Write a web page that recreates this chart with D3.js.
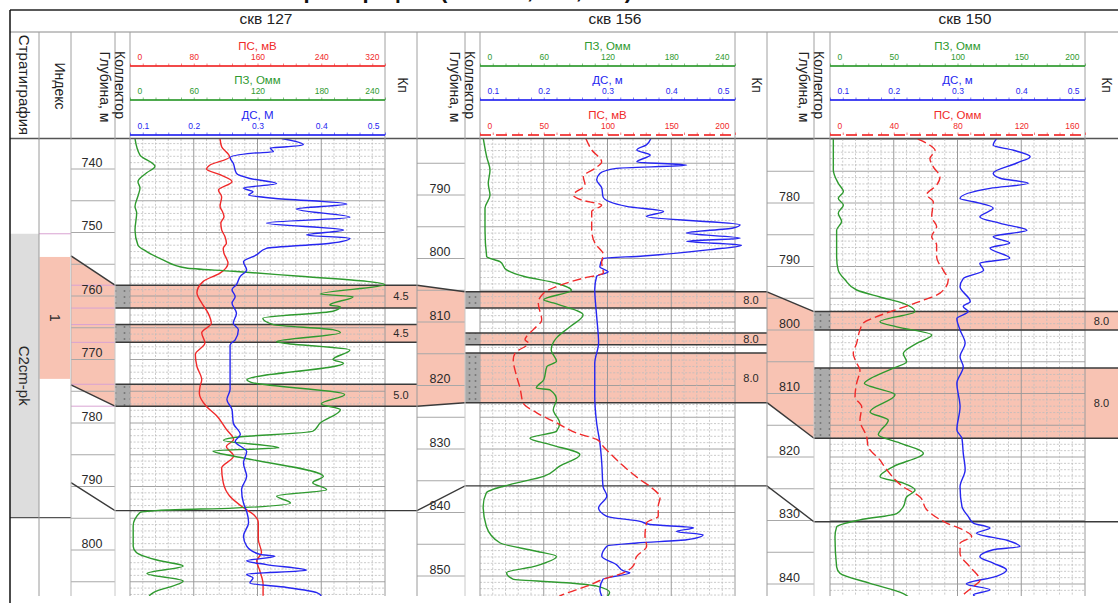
<!DOCTYPE html>
<html>
<head>
<meta charset="utf-8">
<script src="https://cdn.jsdelivr.net/npm/d3@7"></script>
<style>
  body { margin: 0; background: #fff; }
  svg { display: block; font-family: "Liberation Sans", Arial, sans-serif; }
</style>
</head>
<body>
<svg id="chart" width="1118" height="603"></svg>
<script>
// ---------------- data ----------------
const wellNames = ["скв 127", "скв 156", "скв 150"];

// depth tick labels, m
const depthLabels127 = [740, 750, 760, 770, 780, 790, 800];
const depthLabels156 = [790, 800, 810, 820, 830, 840, 850];
const depthLabels150 = [780, 790, 800, 810, 820, 830, 840];

// reservoir sublayers: [top, bottom, Кп]
const layers127 = [[758.3, 761.9, 4.5], [764.5, 767.3, 4.5], [773.9, 777.35, 5.0]];
const layers156 = [[805.25, 807.8, 8.0], [811.75, 813.6, 8.0], [814.9, 822.7, 8.0]];
const layers150 = [[797.1, 800.0, 8.0], [806.0, 817.05, 8.0]];

// stratigraphy and index column of well 127
const stratUnits = [{ name: "C2cm-pk", top: 750.2, bottom: 794.9 }];
const indexUnits = [{ name: "1", top: 753.85, bottom: 773.05 }];
const indexZoneEdge = [753.7, 774.0];

// lower correlation horizon depth in each well; start depth on the left of 127
const horizonDepths = [793.8, 835.8, 830.2];
const horizonStart127 = 789.4;

// curve scale tick labels
const ticksPS127 = [0, 80, 160, 240, 320];
const ticksPZ240 = [0, 60, 120, 180, 240];
const ticksDS = [0.1, 0.2, 0.3, 0.4, 0.5];
const ticksPS156 = [0, 50, 100, 150, 200];
const ticksPZ150 = [0, 50, 100, 150, 200];
const ticksPS150 = [0, 40, 80, 120, 160];

// ---- well 127 logs: [depth, value] ----
const pz127 = [[735.2,4.7],[737.8,9.4],[739.6,23.5],[740.6,15.7],[742,7.5],[743,9.4],[744.1,7.8],[745.9,4.7],[746.9,6.3],[749.6,4.7],[752,7.5],[753,15.7],[754.3,31],[755.6,53],[756.1,97],[756.9,160],[757.7,223],[758.2,240],[759.7,179],[760.1,210],[761.4,188],[761.7,198],[762.4,191],[763.5,125],[764.5,135],[765.3,191],[765.8,198],[767.2,138],[767.4,144],[768.5,207],[770,191],[770.6,201],[773.2,110],[773.6,114],[775.5,202],[777,180],[777.9,198],[780,179],[781.3,172],[782.3,97],[782.7,88],[783.9,140],[784.4,78],[785.2,97],[785.8,116],[788.4,182],[789.4,172],[790.5,185],[791.5,138],[792.6,151],[793.4,97],[793.7,35],[794.1,9.4],[796.2,3],[799.4,3],[800.4,6],[801.7,28],[802.5,50],[803.7,16],[804.9,50],[806.7,22],[807.2,18]];
const ps127 = [[735.2,113],[736.5,115],[738.1,125],[739.4,100],[740,96],[740.9,113],[742,128],[743.3,111],[744.4,115],[745.9,113],[746.7,116],[747.5,118],[748.5,114],[749.6,115],[750.6,119],[751.7,121],[752.5,117],[753.3,118],[754.1,121],[754.8,123],[756.4,113],[757.7,92],[759.5,84],[761.1,90],[762.7,98],[764.3,102],[765.8,90],[767.4,94],[769.2,82],[771.1,84],[773.2,90],[774.2,88],[775.3,87],[777.4,96],[778.9,109],[781,121],[782.6,130],[783.7,121],[785.2,130],[787.1,115],[789.4,117],[791.5,125],[793.3,142],[794.4,155],[795.7,161],[798.3,161],[800.4,165],[801.7,159],[803.3,163],[805.4,167],[807.2,167]];
const ds127 = [[735.2,0.338],[735.7,0.361],[736.2,0.372],[736.5,0.346],[736.7,0.320],[737.3,0.325],[737.5,0.293],[738.2,0.257],[739.1,0.262],[740.7,0.267],[741.5,0.288],[742.3,0.330],[743,0.278],[743.6,0.293],[744.1,0.286],[744.6,0.325],[745.5,0.440],[746.3,0.361],[747.6,0.445],[748.5,0.314],[749.6,0.435],[750.4,0.377],[750.9,0.445],[751.7,0.414],[752.5,0.314],[753.5,0.299],[754.6,0.278],[755.9,0.283],[756.9,0.273],[758.2,0.267],[759,0.260],[760.1,0.265],[761.1,0.260],[762.7,0.267],[764.3,0.262],[765.3,0.270],[766.9,0.265],[767.7,0.257],[770.6,0.257],[773.7,0.257],[774.7,0.257],[776.3,0.252],[777.9,0.260],[780,0.262],[781.8,0.273],[782.9,0.265],[784.5,0.283],[786.3,0.278],[788.4,0.283],[790.5,0.275],[792.6,0.278],[793.9,0.283],[795.7,0.286],[797.8,0.278],[799.4,0.283],[800.7,0.304],[801,0.327],[801.7,0.283],[802.3,0.314],[803.2,0.377],[803.8,0.283],[804.4,0.293],[805.2,0.288],[805.9,0.346],[806.7,0.393],[807.2,0.40]];

// ---- well 156 logs ----
const pz156 = [[781.1,3.1],[784,6.3],[786.1,9.4],[788.2,7.8],[790,9.4],[792.1,4.7],[795.5,4.7],[799.7,6.3],[800.5,18.8],[801.8,25],[802.8,41],[803.9,72],[805,86],[806.5,60],[807,69],[808.9,97],[810.7,85],[812.5,72],[814.4,67],[816.2,72],[817,63],[819.1,60],[820.4,53],[820.7,66],[822.2,72],[823.8,69],[825.9,75],[827.2,72],[828.3,47],[829.3,66],[830.9,94],[832.7,75],[834.3,60],[835.6,28],[836.9,6],[839,3],[842.2,6],[844.8,19],[846.1,53],[846.9,72],[848.4,53],[849.5,25],[850.5,31],[851.1,85],[851.6,110],[852.6,122],[853.2,120]];
const ds156 = [[781.1,0.368],[782.1,0.361],[782.9,0.346],[783.7,0.367],[784.8,0.346],[785.3,0.424],[785.8,0.314],[786.6,0.288],[787.6,0.283],[788.9,0.291],[790.3,0.293],[791.8,0.330],[792.6,0.388],[793.4,0.361],[794.7,0.508],[795.2,0.497],[796,0.424],[796.8,0.508],[797.3,0.424],[797.9,0.510],[798.6,0.461],[799.6,0.356],[800,0.293],[801.3,0.288],[802.1,0.301],[802.8,0.283],[804.9,0.280],[809.1,0.283],[813.3,0.286],[816.5,0.280],[821.7,0.280],[825.9,0.283],[829,0.288],[832.2,0.291],[835.9,0.293],[837.4,0.299],[839.3,0.286],[840.6,0.299],[841.4,0.351],[841.9,0.367],[842.4,0.435],[843,0.408],[843.5,0.450],[844.3,0.424],[844.8,0.346],[845.3,0.299],[846.9,0.291],[848.2,0.314],[849.2,0.325],[849.5,0.335],[850.5,0.293],[852.1,0.288],[853.2,0.291]];
const ps156 = [[781.1,83],[782.9,87.6],[784.8,95.4],[785.8,90.2],[787.1,81],[788.4,82.4],[790,73.2],[790.8,79.8],[791.6,95.4],[792.6,87.6],[795.5,87.6],[797.6,90.2],[799.4,96.7],[800.5,95.4],[802.3,96.7],[803.1,81],[804.2,62.7],[805.5,49.7],[807,45.7],[809.7,48.4],[811.2,41.8],[812.8,35.3],[813.3,37.9],[814.9,27.5],[815.9,26.1],[818.6,28.8],[820.4,31.4],[822.8,34],[824.3,44.5],[825.9,60.2],[827.5,75.8],[828.5,91.5],[829.6,96.7],[832.2,109.8],[834.8,125.5],[835.9,133.3],[837.7,141.2],[839,139.8],[840.6,139.8],[841.6,130.7],[843.7,129.4],[845.3,130.7],[846.9,122.9],[848.4,120.2],[849.5,112.4],[850.5,96.7],[851.6,83.7],[852.9,65.3],[853.2,62]];

// ---- well 150 logs ----
const pz150 = [[769.9,2.6],[774.8,2.6],[776.9,6.5],[778.2,10.5],[779.3,6.5],[780.3,10.5],[781.6,6.5],[782.9,9.1],[784.3,5.2],[788.5,5.2],[790.6,6.5],[792.1,11.8],[793.7,20.9],[794.8,39.2],[795.8,57.5],[797.1,66.7],[798.7,39.2],[799.5,52.3],[800.8,79.8],[802.1,68],[803.7,57.5],[805,60.1],[806,49.7],[807.4,34],[808.4,27],[810.2,51],[812.9,31.4],[814.2,45.7],[816.5,37.9],[817.8,54.9],[819.4,73.2],[821.5,49.7],[823.1,39.2],[824.1,57.5],[825.2,66.7],[826.3,60.1],[827.8,57.5],[828.9,52.3],[829.9,23.5],[831,5.2],[832.6,3.9],[837.3,5.2],[838.3,7.8],[839.9,31.4],[841.5,57.5],[842.1,62]];
const ds150 = [[769.9,0.361],[770.9,0.356],[771.7,0.388],[772.7,0.414],[773.7,0.393],[775.3,0.356],[776.1,0.367],[776.9,0.411],[777.7,0.351],[779.3,0.304],[779.8,0.325],[780.8,0.356],[782.2,0.335],[783.2,0.367],[784.3,0.409],[785.3,0.356],[786.3,0.382],[787.1,0.351],[788.7,0.382],[789.5,0.335],[790.6,0.341],[791.9,0.309],[793.2,0.304],[795.5,0.320],[796.3,0.309],[797.1,0.317],[798.2,0.299],[800,0.304],[802.1,0.312],[804.2,0.304],[805.8,0.309],[808.4,0.299],[812.1,0.304],[815.7,0.299],[817.1,0.307],[819.4,0.309],[822,0.312],[824.7,0.304],[827.8,0.307],[829.4,0.317],[830.4,0.325],[831.2,0.351],[832,0.330],[833.1,0.377],[834.1,0.398],[834.6,0.356],[835.7,0.335],[836.7,0.356],[837.8,0.377],[838.8,0.361],[840,0.314],[840.9,0.351],[841.7,0.325],[842.1,0.33]];
const ps150 = [[769.9,55],[770.9,62.7],[771.7,65.9],[773,62.7],[774.3,64.8],[775.9,69],[777.2,66.9],[778.7,60.7],[779.8,64.8],[782.2,63.8],[783.7,66.9],[785.3,63.8],[786.6,66.9],[788.5,66.9],[790.6,71.1],[792.1,74.2],[794.2,69],[795.5,56.5],[796.6,43.9],[797.9,29.3],[798.9,20.9],[800,18.8],[802.1,16.7],[803.7,14.6],[805.2,16.7],[806.3,18.8],[808.4,16.7],[810.5,15.7],[812.1,19.9],[814.2,18.8],[816.8,23],[818.4,24],[820.5,31.4],[822,35.6],[824.7,46],[826.3,56.5],[828.3,60.7],[830.4,73.2],[831.5,83.6],[832.5,88.9],[833.6,81.6],[835.2,81.6],[837.3,87.8],[839.4,94.1],[840.4,89.9],[841.7,83.6],[842.1,82]];

// ---------------- styling & layout ----------------
const RED = "#f02a2a", GREEN = "#2f9a2f", BLUE = "#2626f0";
const PINK = "#f8c3b3";
const PXM = 6.35;                 // px per metre
const BODY_TOP = 139, BODY_BOT = 596;
const BAND_LINES = [66, 100, 135]; // header scale lines

const fmt0 = d3.format("d"), fmt1 = d3.format(".1f");

const wells = [
  { name: wellNames[0], anchor: [740, 169], depthX: [71, 115], collX: [115, 130], trackX: [130, 385], kpX: [385, 417],
    right: 417, nameX: 266, kpLabelX: 403, depthLabels: depthLabels127, layers: layers127,
    curves: [
      { title: "ПС, мВ", color: RED, domain: [0, 320], ticks: ticksPS127, fmt: fmt0, data: ps127, dashed: false },
      { title: "ПЗ, Омм", color: GREEN, domain: [0, 240], ticks: ticksPZ240, fmt: fmt0, data: pz127, dashed: false },
      { title: "ДС, М", color: BLUE, domain: [0.1, 0.5], ticks: ticksDS, fmt: fmt1, data: ds127, dashed: false } ] },
  { name: wellNames[1], anchor: [790, 195], depthX: [417, 465], collX: [465, 480], trackX: [480, 735], kpX: [735, 767],
    right: 767, nameX: 615, kpLabelX: 757, depthLabels: depthLabels156, layers: layers156,
    curves: [
      { title: "ПЗ, Омм", color: GREEN, domain: [0, 240], ticks: ticksPZ240, fmt: fmt0, data: pz156, dashed: false },
      { title: "ДС, м", color: BLUE, domain: [0.1, 0.5], ticks: ticksDS, fmt: fmt1, data: ds156, dashed: false },
      { title: "ПС, мВ", color: RED, domain: [0, 200], ticks: ticksPS156, fmt: fmt0, data: ps156, dashed: true } ] },
  { name: wellNames[2], anchor: [780, 203], depthX: [767, 814], collX: [814, 830], trackX: [830, 1085], kpX: [1085, 1118],
    right: 1118, nameX: 965, kpLabelX: 1107, depthLabels: depthLabels150, layers: layers150,
    curves: [
      { title: "ПЗ, Омм", color: GREEN, domain: [0, 200], ticks: ticksPZ150, fmt: fmt0, data: pz150, dashed: false },
      { title: "ДС, м", color: BLUE, domain: [0.1, 0.5], ticks: ticksDS, fmt: fmt1, data: ds150, dashed: false },
      { title: "ПС, Омм", color: RED, domain: [0, 160], ticks: ticksPS150, fmt: fmt0, data: ps150, dashed: true } ] }
];

wells.forEach(w => {
  w.y = d3.scaleLinear().domain([w.anchor[0], w.anchor[0] + 10]).range([w.anchor[1], w.anchor[1] + 10 * PXM]);
  w.zone = [d3.min(w.layers, l => l[0]), d3.max(w.layers, l => l[1])];
});

const svg = d3.select("#chart");
const defs = svg.append("defs");

defs.append("clipPath").attr("id", "bodyClip")
  .append("rect").attr("x", 0).attr("y", BODY_TOP).attr("width", 1118).attr("height", BODY_BOT - BODY_TOP);

// dotted "collector" fill
const pat = defs.append("pattern").attr("id", "coll").attr("patternUnits", "userSpaceOnUse")
  .attr("width", 15).attr("height", 6);
pat.append("rect").attr("width", 15).attr("height", 6).attr("fill", "#ababab");
[[4.5, 3], [10.5, 3]].forEach(([cx, cy]) =>
  pat.append("rect").attr("x", cx - 0.8).attr("y", cy - 0.8).attr("width", 1.6).attr("height", 1.6).attr("fill", "#6e6e6e"));

// sheet title above the panel (runs off the top edge)
svg.append("text").attr("x", 430).attr("y", -2.5).attr("text-anchor", "middle")
  .style("font-size", "22px").style("font-weight", "bold").attr("fill", "#111")
  .text("Литостратиграфия (скв 127, 156, 150)");

const body = svg.append("g").attr("clip-path", "url(#bodyClip)");

// ---------------- pink reservoir intervals ----------------
const pinkG = body.append("g");
wells.forEach(w => {
  w.layers.forEach(l => {
    pinkG.append("rect").attr("x", w.collX[0]).attr("y", w.y(l[0]))
      .attr("width", w.right - w.collX[0]).attr("height", w.y(l[1]) - w.y(l[0])).attr("fill", PINK);
  });
});
// connectors between wells inside the depth columns
const connectors = [];
{
  const w = wells[0];
  connectors.push([[w.depthX[0], w.y(indexZoneEdge[0])], [w.depthX[1], w.y(w.zone[0])],
                   [w.depthX[1], w.y(w.zone[1])], [w.depthX[0], w.y(indexZoneEdge[1])]]);
  for (let i = 1; i < wells.length; i++) {
    const p = wells[i - 1], c = wells[i];
    connectors.push([[c.depthX[0], p.y(p.zone[0])], [c.depthX[1], c.y(c.zone[0])],
                     [c.depthX[1], c.y(c.zone[1])], [c.depthX[0], p.y(p.zone[1])]]);
  }
}
connectors.forEach(pts => {
  pinkG.append("polygon").attr("points", pts.map(p => p.join(",")).join(" ")).attr("fill", PINK);
});

// index column
const w0 = wells[0];
indexUnits.forEach(u => {
  pinkG.append("rect").attr("x", 39.5).attr("y", w0.y(u.top)).attr("width", 30.5)
    .attr("height", w0.y(u.bottom) - w0.y(u.top)).attr("fill", PINK);
});
// stratigraphy column
stratUnits.forEach(u => {
  pinkG.append("rect").attr("x", 10).attr("y", w0.y(u.top)).attr("width", 29)
    .attr("height", w0.y(u.bottom) - w0.y(u.top)).attr("fill", "#dddddd");
});

// ---------------- grids ----------------
const gridG = body.append("g");
wells.forEach(w => {
  const [x0, x1] = w.trackX;
  const gx = d3.scaleLinear().domain([0, 20]).range([x0, x1]);
  const dTop = Math.ceil(w.y.invert(BODY_TOP)), dBot = Math.floor(w.y.invert(BODY_BOT));
  d3.range(dTop, dBot + 1).forEach(d => {
    const major = d % 5 === 0;
    gridG.append("line").attr("x1", x0).attr("x2", x1).attr("y1", w.y(d)).attr("y2", w.y(d))
      .attr("stroke", major ? "#9a9a9a" : "#bdbdbd").attr("stroke-width", major ? 0.9 : 0.8)
      .attr("stroke-dasharray", major ? null : "2,1.6");
    if (d % 5 === 0) {
      gridG.append("line").attr("x1", w.depthX[0]).attr("x2", w.depthX[1]).attr("y1", w.y(d)).attr("y2", w.y(d))
        .attr("stroke", "#a8a8a8").attr("stroke-width", 1);
    }
  });
  d3.range(0, 21).forEach(i => {
    const major = i % 5 === 0;
    gridG.append("line").attr("x1", gx(i)).attr("x2", gx(i)).attr("y1", BODY_TOP).attr("y2", BODY_BOT)
      .attr("stroke", major ? "#9a9a9a" : "#bdbdbd").attr("stroke-width", major ? 1 : 0.8)
      .attr("stroke-dasharray", major ? null : "2,1.6");
  });
});

// collector pattern cells
wells.forEach(w => {
  w.layers.forEach(l => {
    body.append("rect").attr("x", w.collX[0]).attr("y", w.y(l[0]))
      .attr("width", w.collX[1] - w.collX[0]).attr("height", w.y(l[1]) - w.y(l[0])).attr("fill", "url(#coll)");
  });
});

// column separators in the body
const sepG = svg.append("g");
const bodySeps = [[39, "#9a9a9a"], [71, "#b5b5b5"], [115, "#c8c8c8"], [417, "#9a9a9a"], [465, "#c8c8c8"],
                  [767, "#9a9a9a"], [814, "#c8c8c8"]];
bodySeps.forEach(([x, c]) => sepG.append("line").attr("x1", x).attr("x2", x)
  .attr("y1", BODY_TOP).attr("y2", BODY_BOT).attr("stroke", c).attr("stroke-width", 1));

// thin marks of stratigraphic and sublayer tops in the left columns
const magG = body.append("g").attr("stroke", "#d9a3d3").attr("stroke-width", 1);
magG.append("line").attr("x1", 39).attr("x2", 71).attr("y1", w0.y(stratUnits[0].top)).attr("y2", w0.y(stratUnits[0].top));
w0.layers.forEach(l => [l[0], l[1]].forEach(d =>
  magG.append("line").attr("x1", 71).attr("x2", 115).attr("y1", w0.y(d)).attr("y2", w0.y(d))));
body.append("line").attr("x1", 10).attr("x2", 71)
  .attr("y1", w0.y(stratUnits[0].bottom)).attr("y2", w0.y(stratUnits[0].bottom))
  .attr("stroke", "#555").attr("stroke-width", 1.2);

// ---------------- layer borders & correlation lines ----------------
const lineG = body.append("g").attr("stroke", "#3a3a3a").attr("stroke-width", 1.5).attr("fill", "none");
wells.forEach(w => {
  w.layers.forEach(l => [l[0], l[1]].forEach(d =>
    lineG.append("line").attr("x1", w.collX[0]).attr("x2", w.right).attr("y1", w.y(d)).attr("y2", w.y(d))));
});
connectors.forEach(pts => {
  lineG.append("line").attr("x1", pts[0][0]).attr("y1", pts[0][1]).attr("x2", pts[1][0]).attr("y2", pts[1][1]);
  lineG.append("line").attr("x1", pts[3][0]).attr("y1", pts[3][1]).attr("x2", pts[2][0]).attr("y2", pts[2][1]);
});
// lower horizon
const horizonPts = [[w0.depthX[0], w0.y(horizonStart127)]];
wells.forEach((w, i) => {
  if (i > 0) horizonPts.push([w.depthX[0], wells[i - 1].y(horizonDepths[i - 1])]);
  horizonPts.push([w.depthX[1], w.y(horizonDepths[i])]);
  horizonPts.push([w.right, w.y(horizonDepths[i])]);
});
lineG.append("path").attr("d", d3.line()(horizonPts)).attr("stroke-width", 1.4);

// ---------------- log curves ----------------
wells.forEach(w => {
  w.curves.forEach(c => {
    const x = d3.scaleLinear().domain(c.domain).range(w.trackX);
    const line = d3.line().x(d => x(d[1])).y(d => w.y(d[0])).curve(d3.curveMonotoneY);
    body.append("path").attr("d", line(c.data)).attr("fill", "none").attr("stroke", c.color)
      .attr("stroke-width", 1.4).attr("stroke-linejoin", "round")
      .attr("stroke-dasharray", c.dashed ? "9,4" : null);
  });
});

// ---------------- body texts ----------------
const txtG = svg.append("g").attr("fill", "#2a2a2a");
wells.forEach(w => {
  w.depthLabels.forEach(d => {
    txtG.append("text").attr("x", (w.depthX[0] + w.depthX[1]) / 2 - 1).attr("y", w.y(d) - 2.5)
      .attr("text-anchor", "middle").style("font-size", "12.5px").text(d);
  });
  w.layers.forEach(l => {
    txtG.append("text").attr("x", (w.kpX[0] + w.kpX[1]) / 2).attr("y", (w.y(l[0]) + w.y(l[1])) / 2)
      .attr("dy", "0.35em").attr("text-anchor", "middle").style("font-size", "11px").text(fmt1(l[2]));
  });
});
function vText(g, x, y, str, size) {
  g.append("text").attr("transform", `translate(${x},${y}) rotate(90)`).attr("dy", "0.35em")
    .attr("text-anchor", "middle").style("font-size", size + "px").text(str);
}
stratUnits.forEach(u => vText(txtG, 24, (w0.y(u.top) + w0.y(u.bottom)) / 2, u.name, 15));
indexUnits.forEach(u => vText(txtG, 55, (w0.y(u.top) + w0.y(u.bottom)) / 2, u.name, 14));

// ---------------- header ----------------
const hdr = svg.append("g");
hdr.append("line").attr("x1", 10).attr("x2", 1118).attr("y1", 10).attr("y2", 10).attr("stroke", "#222").attr("stroke-width", 1.3);
hdr.append("line").attr("x1", 10).attr("x2", 1118).attr("y1", 32).attr("y2", 32).attr("stroke", "#8a8a8a").attr("stroke-width", 1);
hdr.append("line").attr("x1", 10).attr("x2", 1118).attr("y1", BODY_TOP - 0.5).attr("y2", BODY_TOP - 0.5).attr("stroke", "#555").attr("stroke-width", 1.3);
hdr.append("line").attr("x1", 10).attr("x2", 10).attr("y1", 10).attr("y2", 603).attr("stroke", "#111").attr("stroke-width", 1.5);
[39, 71, 115, 130, 385, 417, 465, 480, 735, 767, 814, 830, 1085].forEach(x =>
  hdr.append("line").attr("x1", x).attr("x2", x).attr("y1", 32).attr("y2", BODY_TOP)
    .attr("stroke", "#a0a0a0").attr("stroke-width", 1));

const hTxt = hdr.append("g").attr("fill", "#222");
vText(hTxt, 24, 85, "Стратиграфия", 15);
vText(hTxt, 60, 86, "Индекс", 14);
wells.forEach(w => {
  hTxt.append("text").attr("x", w.nameX).attr("y", 24).attr("text-anchor", "middle")
    .style("font-size", "15.5px").text(w.name);
  vText(hTxt, w.collX[0] + 5, 85, "Коллектор", 14);
  vText(hTxt, w.collX[0] - 10.5, 87, "Глубина, м", 14);
  vText(hTxt, w.kpLabelX, 85, "Кп", 14);

  w.curves.forEach((c, i) => {
    const ly = BAND_LINES[i];
    const [x0, x1] = w.trackX;
    const sc = d3.scaleLinear().domain(c.domain).range([x0, x1]);
    const g = hdr.append("g");
    g.append("text").attr("x", (x0 + x1) / 2).attr("y", ly - 16).attr("text-anchor", "middle")
      .attr("fill", c.color).style("font-size", "11.5px").text(c.title);
    g.append("line").attr("x1", x0).attr("x2", x1).attr("y1", ly).attr("y2", ly)
      .attr("stroke", c.color).attr("stroke-width", 2.2).attr("stroke-opacity", 0.85)
      .attr("stroke-dasharray", c.dashed ? "11,5" : null);
    const step = (c.domain[1] - c.domain[0]) / 20;
    const minor = d3.range(21).map(k => c.domain[0] + k * step);
    const minorAx = g.append("g").attr("transform", `translate(0,${ly})`)
      .call(d3.axisTop(sc).tickValues(minor).tickSize(2.5).tickFormat(""));
    minorAx.select(".domain").remove();
    minorAx.selectAll("line").attr("stroke", c.color).attr("stroke-opacity", 0.6);
    const labAx = g.append("g").attr("transform", `translate(0,${ly})`)
      .call(d3.axisTop(sc).tickValues(c.ticks).tickSize(0).tickPadding(6).tickFormat(c.fmt));
    labAx.select(".domain").remove();
    labAx.selectAll("text").attr("fill", c.color).style("font-size", "8.5px")
      .style("font-family", "'Liberation Sans', Arial, sans-serif");
    const texts = labAx.selectAll("text").nodes();
    d3.select(texts[0]).attr("text-anchor", "start").attr("dx", 7);
    d3.select(texts[texts.length - 1]).attr("text-anchor", "end").attr("dx", -6);
  });
});
</script>
</body>
</html>
